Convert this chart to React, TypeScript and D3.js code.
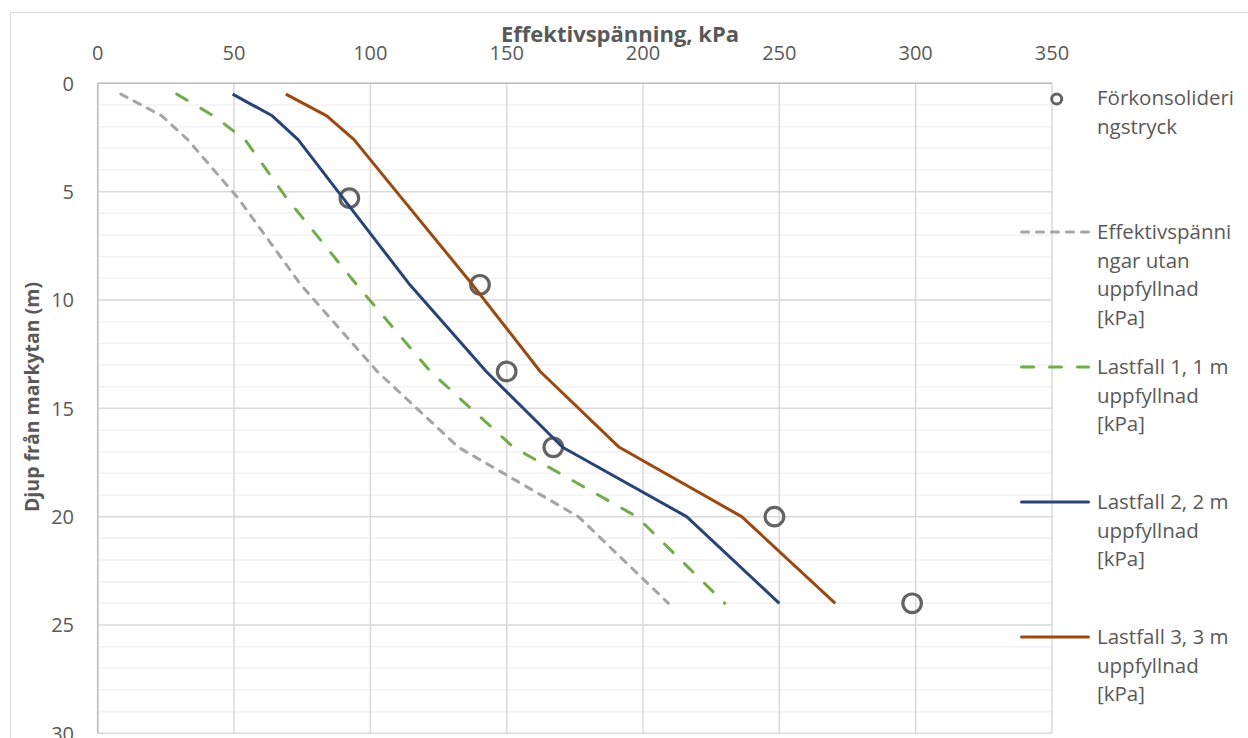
import React from "react";
import * as d3 from "d3";

const depths = [0.5, 1.5, 2.6, 5.3, 9.3, 13.3, 16.8, 20, 24];
const utanUppfyllnad = [8.5, 23.5, 33, 51.5, 74.5, 102.5, 132.3, 176.3, 209.3];
const lastfall1 = [29, 42.5, 54, 69.3, 95, 122, 152.5, 197.7, 230];
const lastfall2 = [49.5, 64, 73.5, 90, 114.5, 142.5, 170.5, 216, 250];
const lastfall3 = [69, 84, 94, 111.5, 137.5, 162.3, 191.3, 236.2, 270.5];
const forkonsDepth = [5.3, 9.3, 13.3, 16.8, 20, 24];
const forkonsValue = [92.3, 140.2, 150, 167.1, 248.2, 298.7];

const xTicks = [0, 50, 100, 150, 200, 250, 300, 350];
const yTicks = [0, 5, 10, 15, 20, 25, 30];
const yMinor = d3.range(0, 31, 1);

const FONT = "'Open Sans', 'Noto Sans', sans-serif";
const TXT = "#595959";

type Series = { name: string[]; values: number[]; color: string; dash?: string };
const series: Series[] = [
  { name: ["Effektivspänni", "ngar utan", "uppfyllnad", "[kPa]"], values: utanUppfyllnad, color: "#a5a5a5", dash: "7 8" },
  { name: ["Lastfall 1, 1 m", "uppfyllnad", "[kPa]"], values: lastfall1, color: "#70ad47", dash: "12 16" },
  { name: ["Lastfall 2, 2 m", "uppfyllnad", "[kPa]"], values: lastfall2, color: "#264478" },
  { name: ["Lastfall 3, 3 m", "uppfyllnad", "[kPa]"], values: lastfall3, color: "#9e480e" },
];

export default function App() {
  const x = d3.scaleLinear().domain([0, 350]).range([97.7, 1052]);
  const y = d3.scaleLinear().domain([0, 30]).range([83.3, 733.3]);
  const line = d3
    .line<[number, number]>()
    .x((d) => x(d[0]))
    .y((d) => y(d[1]));

  const legendX = 1020;
  const legendTextX = 1097;
  const legendY0 = 97;
  const legendStep = 135;
  const lineH = 28.5;
  const legendFont = 20.5;

  return (
    <svg
      width={1248}
      height={738}
      style={{ position: "absolute", left: 0, top: 0, background: "#fff" }}
      fontFamily={FONT}
    >
      <rect x={0} y={0} width={1248} height={738} fill="#fff" />
      <rect x={10.5} y={12.5} width={1400} height={900} fill="none" stroke="#d9d9d9" strokeWidth={1} />

      {/* minor horizontal gridlines */}
      {yMinor
        .filter((v) => v % 5 !== 0)
        .map((v) => (
          <line key={"mn" + v} x1={x(0)} x2={x(350)} y1={y(v)} y2={y(v)} stroke="#f2f2f2" strokeWidth={1.5} />
        ))}
      {/* major gridlines */}
      {yTicks.map((v) => (
        <line key={"my" + v} x1={x(0)} x2={x(350)} y1={y(v)} y2={y(v)} stroke="#d9d9d9" strokeWidth={1.5} />
      ))}
      {xTicks.map((v) => (
        <line key={"mx" + v} x1={x(v)} x2={x(v)} y1={y(0)} y2={y(30)} stroke="#d9d9d9" strokeWidth={1.5} />
      ))}
      {/* axis lines */}
      <line x1={x(0)} x2={x(350)} y1={y(0)} y2={y(0)} stroke="#bfbfbf" strokeWidth={1.5} />
      <line x1={x(0)} x2={x(0)} y1={y(0)} y2={y(30)} stroke="#bfbfbf" strokeWidth={1.5} />

      {/* tick labels */}
      {xTicks.map((v) => (
        <text key={"xt" + v} x={x(v)} y={59.5} textAnchor="middle" fontSize={20} fill={TXT}>
          {v}
        </text>
      ))}
      {yTicks.map((v) => (
        <text key={"yt" + v} x={74} y={y(v)} dy="0.36em" textAnchor="end" fontSize={20} fill={TXT}>
          {v}
        </text>
      ))}

      {/* axis titles */}
      <text x={620} y={41.5} textAnchor="middle" fontSize={22} fontWeight="bold" fill={TXT}>
        Effektivspänning, kPa
      </text>
      <text
        transform={`translate(38.5,397) rotate(-90)`}
        textAnchor="middle"
        fontSize={19.5}
        fontWeight="bold"
        fill={TXT}
      >
        Djup från markytan (m)
      </text>

      {/* preconsolidation points */}
      {forkonsValue.map((v, i) => (
        <circle key={"c" + i} cx={x(v)} cy={y(forkonsDepth[i])} r={9.3} fill="none" stroke="#636363" strokeWidth={3.2} />
      ))}

      {/* series lines */}
      {series.map((s, i) => (
        <path
          key={"s" + i}
          d={line(s.values.map((v, j) => [v, depths[j]] as [number, number])) || ""}
          fill="none"
          stroke={s.color}
          strokeWidth={3}
          strokeDasharray={s.dash}
          strokeLinecap={s.dash ? "round" : "butt"}
          strokeLinejoin="round"
        />
      ))}

      {/* legend */}
      <circle cx={1056.7} cy={legendY0 + 2} r={5} fill="none" stroke="#636363" strokeWidth={3} />
      <text x={legendTextX} y={legendY0 + 8} fontSize={legendFont} fill={TXT}>
        <tspan x={legendTextX}>Förkonsolideri</tspan>
        <tspan x={legendTextX} dy={lineH}>ngstryck</tspan>
      </text>
      {series.map((s, i) => {
        const cy = legendY0 + legendStep * (i + 1);
        return (
          <g key={"lg" + i}>
            <line
              x1={legendX + 1.5}
              x2={legendX + 68.5}
              y1={cy}
              y2={cy}
              stroke={s.color}
              strokeWidth={3}
              strokeDasharray={s.dash}
              strokeLinecap="round"
            />
            <text x={legendTextX} y={cy + 7} fontSize={legendFont} fill={TXT}>
              {s.name.map((t, k) => (
                <tspan key={k} x={legendTextX} dy={k === 0 ? 0 : lineH}>
                  {t}
                </tspan>
              ))}
            </text>
          </g>
        );
      })}
    </svg>
  );
}
